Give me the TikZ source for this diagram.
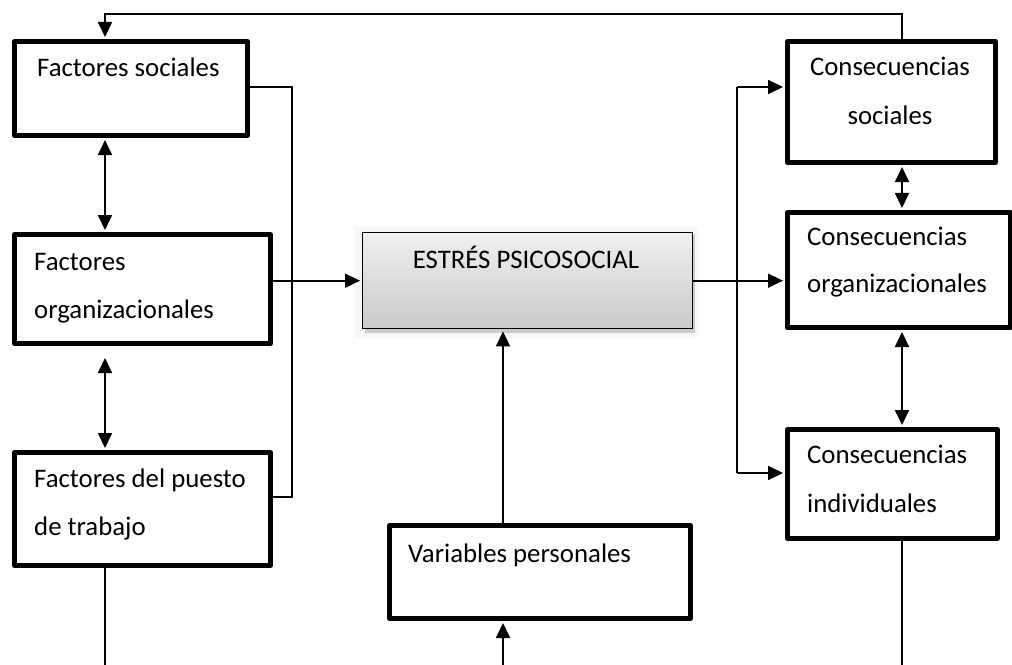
\documentclass[tikz,border=0pt]{standalone}
\usepackage{fontspec}
\setmainfont{Carlito}
\usetikzlibrary{arrows.meta}
\begin{document}
\begin{tikzpicture}[x=1bp,y=-1bp,
  box/.style={draw, line width=5bp, line join=round, fill=white, inner sep=0pt, anchor=north west},
  lbl/.style={inner sep=0pt, font=\fontsize{26.8bp}{32bp}\selectfont},
  conn/.style={line width=1.8bp},
  arr/.style={conn, -{Triangle[length=15bp,width=14bp]}, shorten >=2bp},
  dbl/.style={conn, {Triangle[length=15bp,width=14bp]}-{Triangle[length=15bp,width=14bp]}, shorten >=2bp, shorten <=2bp}]
\useasboundingbox (0,0) rectangle (1012,665);

% boxes
\node[box, minimum width=233bp, minimum height=94bp] (fs) at (12,39) {};
\node[box, minimum width=256bp, minimum height=109bp] (org) at (12,232) {};
\node[box, minimum width=256bp, minimum height=113bp] (pu) at (12,450) {};
\node[box, minimum width=208bp, minimum height=121bp] (cs) at (785,39) {};
\node[box, minimum width=223bp, minimum height=115bp] (co) at (785,210) {};
\node[box, minimum width=210bp, minimum height=109bp] (ci) at (785,427) {};
\node[box, minimum width=301bp, minimum height=93bp] (vp) at (387,523) {};

% central box with shadow
\fill[gray!6] (354,226) rectangle (698,338);
\fill[gray!40] (365,235) rectangle (695,333);
\node[draw, line width=1.4bp, inner sep=0pt, anchor=north west, top color=gray!12, bottom color=gray!42,
      minimum width=330bp, minimum height=96bp] (es) at (362,232) {};

% texts
\node[lbl, anchor=base west] (t1) at (37,77) {Factores sociales};
\node[lbl, anchor=base west] (t2) at (34,270) {Factores};
\node[lbl, anchor=base west] (t3) at (34,318) {organizacionales};
\node[lbl, anchor=base west] (t4) at (34,487) {Factores del puesto};
\node[lbl, anchor=base west] (t5) at (34,535) {de trabajo};
\node[lbl, anchor=base] (t6) at (526,268) {ESTRÉS PSICOSOCIAL};
\node[lbl, anchor=base west] (t7) at (408,562) {Variables personales};
\node[lbl, anchor=base] (t8) at (890,76) {Consecuencias};
\node[lbl, anchor=base] (t9) at (890,125) {sociales};
\node[lbl, anchor=base west] (t10) at (807,245) {Consecuencias};
\node[lbl, anchor=base west] (t11) at (807,292) {organizacionales};
\node[lbl, anchor=base west] (t12) at (807,463) {Consecuencias};
\node[lbl, anchor=base west] (t13) at (807,512) {individuales};

% coordinates
\coordinate (colL) at (105,0);
\coordinate (colR) at (902,0);
\coordinate (colM) at (503,0);
\coordinate (topL) at (105,14);
\coordinate (topR) at (902,14);
\coordinate (bl1) at (292,87);
\coordinate (bl2) at (292,497);
\coordinate (br1) at (737,87);
\coordinate (br2) at (737,473);
\coordinate (bL) at (105,665);
\coordinate (bR) at (902,665);
\coordinate (bM) at (503,665);

% connectors
\draw[arr] (cs.north -| colR) -- (topR) -- (topL) -- (fs.north -| colL);
\draw[dbl] (fs.south -| colL) -- (org.north -| colL);
\draw[dbl, shorten <=12bp] (org.south -| colL) -- (pu.north -| colL);
\draw[dbl] (cs.south -| colR) -- (co.north -| colR);
\draw[dbl] (co.south -| colR) -- (ci.north -| colR);
\draw[conn] (fs.east |- bl1) -- (bl1) -- (bl2) -- (pu.east |- bl2);
\draw[arr] (org.east |- es.west) -- (es.west);
\draw[arr] (es.east) -- (co.west |- es.east);
\draw[conn] (br1) -- (br2);
\draw[arr] (br1) -- (cs.west |- br1);
\draw[arr] (br2) -- (ci.west |- br2);
\draw[conn] (pu.south -| colL) -- (bL);
\draw[conn] (ci.south -| colR) -- (bR);
\draw[arr] (bM) -- (vp.south -| colM);
\draw[arr] (vp.north -| colM) -- (es.south -| colM);
\end{tikzpicture}
\end{document}
